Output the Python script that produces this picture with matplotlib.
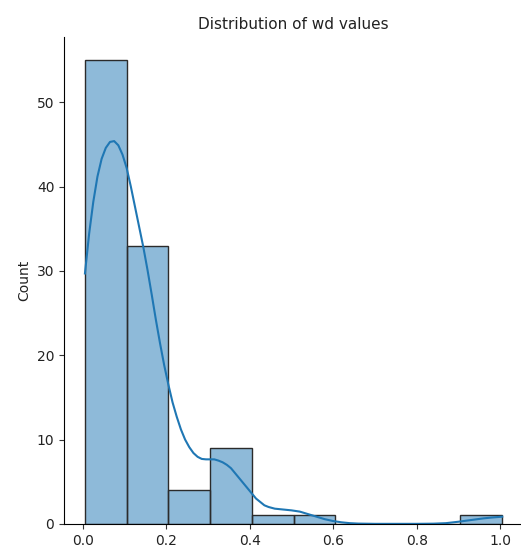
import matplotlib
matplotlib.use('Agg')
import matplotlib.pyplot as plt

# histogram of wd values (10 bins)
bin_edges = [0.005, 0.105, 0.205, 0.305, 0.405, 0.505, 0.605, 0.705, 0.805, 0.905, 1.005]
counts = [55, 33, 4, 9, 1, 1, 0, 0, 0, 1]

# kde curve (in count units)
kde_x = [0.005, 0.015, 0.025, 0.035, 0.045, 0.055, 0.065, 0.075, 0.085, 0.095,
         0.105, 0.115, 0.125, 0.135, 0.145, 0.155, 0.165, 0.175, 0.185, 0.195,
         0.205, 0.215, 0.225, 0.235, 0.245, 0.255, 0.265, 0.275, 0.285, 0.295,
         0.305, 0.315, 0.325, 0.335, 0.345, 0.355, 0.365, 0.375, 0.385, 0.395,
         0.405, 0.415, 0.425, 0.435, 0.445, 0.46, 0.48, 0.50, 0.52, 0.54,
         0.56, 0.58, 0.60, 0.62, 0.64, 0.66, 0.70, 0.80, 0.84, 0.87,
         0.90, 0.93, 0.96, 0.98, 1.005]
kde_y = [29.7, 34.4, 38.2, 41.2, 43.3, 44.6, 45.3, 45.4, 44.9, 43.8,
         42.2, 40.0, 37.6, 35.2, 32.8, 30.1, 27.2, 24.2, 21.4, 18.8,
         16.5, 14.4, 12.7, 11.2, 10.0, 9.1, 8.4, 7.95, 7.7, 7.65,
         7.65, 7.65, 7.5, 7.3, 7.0, 6.6, 6.0, 5.4, 4.8, 4.2,
         3.6, 3.0, 2.6, 2.2, 2.0, 1.8, 1.7, 1.6, 1.45, 1.15,
         0.85, 0.55, 0.33, 0.18, 0.08, 0.03, 0.0, 0.0, 0.02, 0.08,
         0.25, 0.45, 0.65, 0.75, 0.85]

fig = plt.figure(figsize=(5.21, 5.52), dpi=100)
ax = fig.add_axes([0.123, 0.051, 0.881, 0.882])

widths = [bin_edges[i + 1] - bin_edges[i] for i in range(len(counts))]
ax.bar(bin_edges[:-1], counts, width=widths, align='edge',
       color='#1f77b4', alpha=0.5, edgecolor='none')
ax.bar(bin_edges[:-1], counts, width=widths, align='edge',
       facecolor='none', edgecolor='#2b2b2b', linewidth=1)
ax.plot(kde_x, kde_y, color='#1f77b4', linewidth=1.5)

ax.set_xlim(-0.045, 1.055)
ax.set_ylim(0, 57.75)
ax.set_xticks([0.0, 0.2, 0.4, 0.6, 0.8, 1.0])
ax.set_yticks([0, 10, 20, 30, 40, 50])
ax.tick_params(colors='#333333', labelcolor='#222222')
ax.set_ylabel('Count', color='#222222')
ax.set_title('Distribution of wd values', fontsize=11, color='#222222')
ax.spines['top'].set_visible(False)
ax.spines['right'].set_visible(False)

plt.savefig('out.png', dpi=100)
